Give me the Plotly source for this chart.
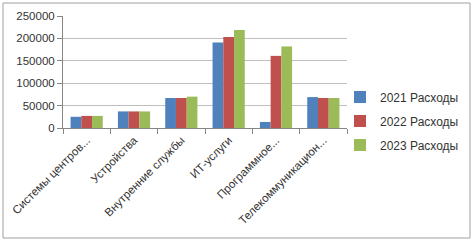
import plotly.graph_objects as go

categories = ["Системы центров...", "Устройства", "Внутренние службы", "ИТ-услуги",
              "Программное...", "Телекоммуникацион..."]
series_names = ["2021 Расходы", "2022 Расходы", "2023 Расходы"]
values_2021 = [25000, 37000, 67000, 191000, 13500, 69000]
values_2022 = [27000, 37000, 67000, 203000, 161000, 67000]
values_2023 = [27000, 37000, 70000, 219000, 182000, 67000]
y_ticks = [0, 50000, 100000, 150000, 200000, 250000]
colors = ["#4f81bd", "#c0504d", "#9bbb59"]

fig = go.Figure()
for name, vals, col in zip(series_names, [values_2021, values_2022, values_2023], colors):
    fig.add_trace(go.Bar(name=name, x=categories, y=vals, marker_color=col,
                         marker_line_width=0, legendgroup=name))

W, H = 474, 244
ml, mr, mt, mb = 63, 127, 16, 116
pw, ph = W - ml - mr, H - mt - mb

fig.update_layout(
    width=W, height=H,
    margin=dict(l=ml, r=mr, t=mt, b=mb, pad=0, autoexpand=False),
    paper_bgcolor="white", plot_bgcolor="white",
    font=dict(family="Liberation Sans, Arial, sans-serif", size=11, color="#333333"),
    barmode="group", bargap=0.32, bargroupgap=0,
    showlegend=True,
    legend=dict(x=(340 - ml) / pw, y=(H - mb - 121) / ph, xanchor="left", yanchor="middle",
                font=dict(size=12), itemwidth=30, tracegroupgap=5,
                bgcolor="rgba(0,0,0,0)"),
    xaxis=dict(type="category", tickangle=-45, ticks="outside", ticklen=5,
               tickson="boundaries", tickcolor="#868686", showline=True,
               linecolor="#868686", showgrid=False, tickfont=dict(size=11.5),
               automargin=False),
    yaxis=dict(range=[0, 250000], tickvals=y_ticks, ticktext=[str(v) for v in y_ticks],
               ticks="outside", ticklen=5, tickcolor="#868686", showline=True,
               linecolor="#868686", showgrid=True, gridcolor="#bfbfbf",
               zeroline=False, tickfont=dict(size=11.5), automargin=False),
    shapes=[dict(type="rect", xref="paper", yref="paper",
                 x0=(3 - ml) / pw, x1=(470 - ml) / pw,
                 y0=-(238 - mt - ph) / ph, y1=1 + (mt - 3) / ph,
                 line=dict(color="#a0a0a0", width=1), fillcolor="rgba(0,0,0,0)",
                 layer="below")],
)

fig.write_html("out.html", config={"displayModeBar": False},
               post_script="document.body.style.margin='0';document.body.style.overflow='hidden';")
